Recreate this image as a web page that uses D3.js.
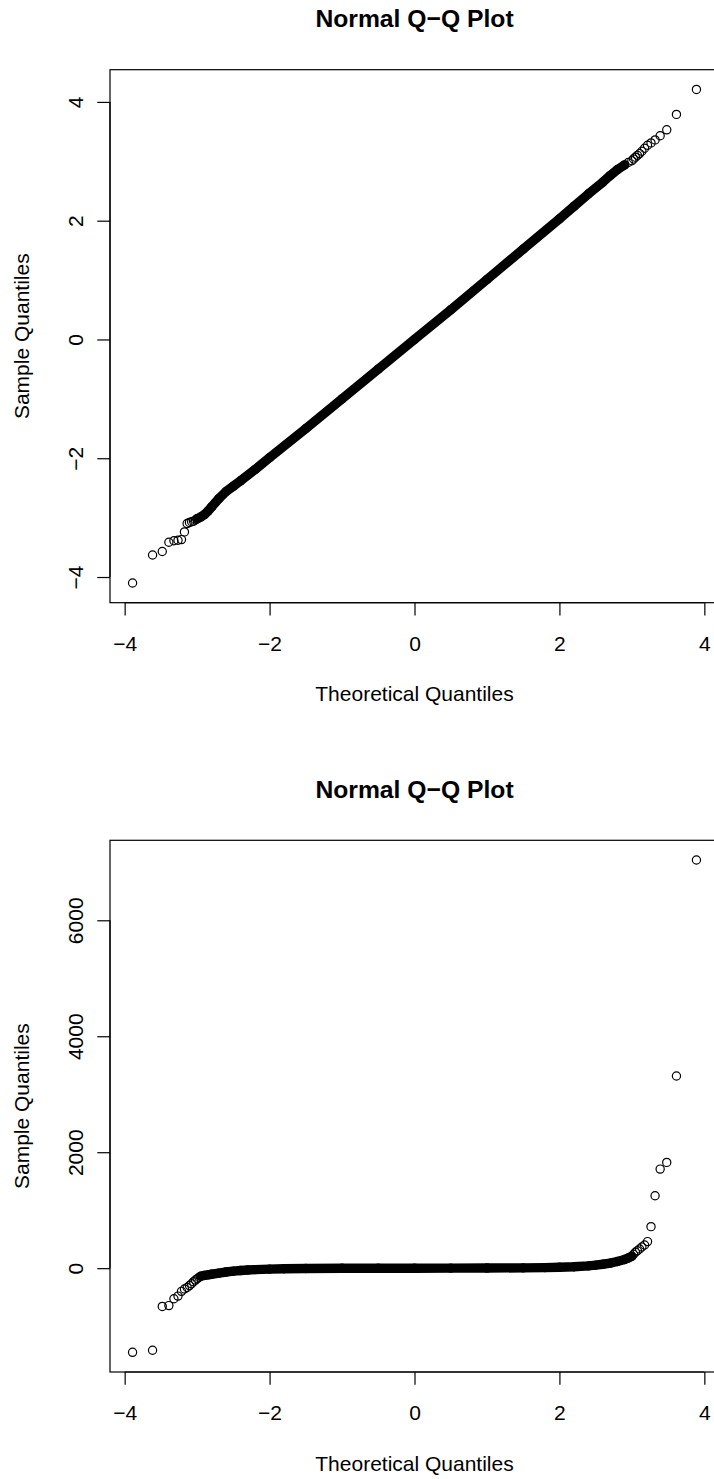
<!DOCTYPE html>
<html><head><meta charset="utf-8">
<script src="https://cdn.jsdelivr.net/npm/d3@7"></script>
<style>html,body{margin:0;padding:0;background:#fff;} svg{display:block;}</style>
</head><body>
<svg id="chart" width="714" height="1479"></svg>
<script>
// ---------- data ----------
const chartTitle = "Normal Q\u2212Q Plot";
const xAxisTitle = "Theoretical Quantiles";
const yAxisTitle = "Sample Quantiles";

const xTicks = [-4, -2, 0, 2, 4];
const xTickLabels = ["\u22124", "\u22122", "0", "2", "4"];

// top panel
const topYTicks = [-4, -2, 0, 2, 4];
const topYTickLabels = ["\u22124", "\u22122", "0", "2", "4"];
const topLowX = [-3.891, -3.615, -3.481, -3.390, -3.320, -3.264, -3.216, -3.175, -3.138, -3.106, -3.076, -3.049, -3.023];
const topLowY = [-4.10, -3.63, -3.57, -3.415, -3.39, -3.38, -3.37, -3.24, -3.10, -3.08, -3.07, -3.06, -3.04];
const topBandX = [-3.0, -2.95, -2.9, -2.85, -2.8, -2.75, -2.7, -2.6, -2.5, -2.4, -2.2, -2.0, -1.5, -1.0, -0.5, 0, 0.5, 1.0, 1.5, 2.0, 2.2, 2.4, 2.6, 2.7, 2.8, 2.9];
const topBandY = [-3.02, -2.99, -2.95, -2.89, -2.82, -2.75, -2.68, -2.56, -2.47, -2.38, -2.19, -1.99, -1.50, -1.00, -0.50, 0.00, 0.50, 1.01, 1.52, 2.03, 2.24, 2.45, 2.65, 2.76, 2.86, 2.94];
const topHighX = [2.95, 3.0, 3.023, 3.049, 3.076, 3.106, 3.138, 3.175, 3.216, 3.264, 3.320, 3.390, 3.481, 3.615, 3.891];
const topHighY = [2.98, 3.01, 3.04, 3.07, 3.10, 3.13, 3.17, 3.22, 3.27, 3.31, 3.36, 3.43, 3.53, 3.79, 4.21];

// bottom panel
const botYTicks = [0, 2000, 4000, 6000];
const botYTickLabels = ["0", "2000", "4000", "6000"];
const botLowX = [-3.891, -3.615, -3.481, -3.390, -3.320, -3.264, -3.216, -3.175, -3.138, -3.106, -3.076, -3.049, -3.023, -2.999, -2.976];
const botLowY = [-1451, -1416, -660, -645, -528, -482, -400, -360, -334, -300, -268, -232, -205, -182, -160];
const botBandX = [-2.95, -2.9, -2.85, -2.8, -2.7, -2.6, -2.5, -2.4, -2.3, -2.2, -2.0, -1.8, -1.5, -1.0, -0.5, 0, 0.5, 1.0, 1.5, 1.8, 2.0, 2.2, 2.4, 2.5, 2.6, 2.7, 2.8, 2.9, 2.95, 3.0];
const botBandY = [-140, -125, -115, -105, -85, -66, -52, -41, -32, -25, -16, -10, -6, -2, -1, 0, 1, 2, 6, 10, 16, 25, 40, 52, 68, 88, 115, 150, 175, 205];
const botHighX = [3.023, 3.049, 3.076, 3.106, 3.138, 3.175, 3.216, 3.264, 3.320, 3.390, 3.481, 3.615, 3.891];
const botHighY = [240, 275, 300, 330, 365, 400, 458, 716, 1250, 1709, 1824, 3315, 7040];

// ---------- drawing ----------
const FONT = "'Liberation Sans', Arial, Helvetica, sans-serif";
const svg = d3.select("#chart");
const R = 4.1, SW = 1.2;

function drawPanel(cfg) {
  const left = 110, right = 719;
  const allX = cfg.lowX.concat(cfg.bandX, cfg.highX);
  const allY = cfg.lowY.concat(cfg.bandY, cfg.highY);
  const [xa, xb] = d3.extent(allX), px = 0.04 * (xb - xa);
  const [ya, yb] = d3.extent(allY), py = 0.04 * (yb - ya);
  const x = d3.scaleLinear().domain([xa - px, xb + px]).range([left, right]);
  const y = d3.scaleLinear().domain([ya - py, yb + py]).range([cfg.bottom, cfg.top]);
  const g = svg.append("g");
  const cx = (left + right) / 2;

  // title
  g.append("text").attr("x", cx).attr("y", cfg.top - 42.5)
    .attr("text-anchor", "middle").attr("font-family", FONT)
    .attr("font-weight", "bold").attr("font-size", 24.7).attr("fill", "#000")
    .text(chartTitle);

  // band of overlapping points
  const line = d3.line().x((d) => x(d[0])).y((d) => y(d[1]));
  const band = cfg.bandX.map((v, i) => [v, cfg.bandY[i]]);
  g.append("path").attr("d", line(band)).attr("fill", "none")
    .attr("stroke", "#000").attr("stroke-width", 2 * R + SW)
    .attr("stroke-linecap", "round").attr("stroke-linejoin", "round");

  // points
  const pts = allX.map((v, i) => [v, allY[i]]);
  g.append("g").selectAll("circle").data(pts).join("circle")
    .attr("cx", (d) => x(d[0])).attr("cy", (d) => y(d[1])).attr("r", R)
    .attr("fill", "none").attr("stroke", "#000").attr("stroke-width", SW);

  // box
  g.append("rect").attr("x", left).attr("y", cfg.top)
    .attr("width", right - left).attr("height", cfg.bottom - cfg.top)
    .attr("fill", "none").attr("stroke", "#000").attr("stroke-width", 1.2);

  // x axis
  const xg = g.append("g").attr("transform", `translate(0,${cfg.bottom})`)
    .call(d3.axisBottom(x).tickValues(xTicks).tickSize(12.7).tickPadding(20.5)
      .tickFormat((d, i) => xTickLabels[i]));
  xg.select(".domain").remove();
  xg.attr("font-family", FONT).attr("font-size", 21);
  xg.selectAll("line").attr("stroke", "#000").attr("stroke-width", SW);
  xg.selectAll("text").attr("fill", "#000");
  xg.append("line").attr("x1", x(xTicks[0])).attr("x2", x(xTicks[xTicks.length - 1]))
    .attr("stroke", "#000").attr("stroke-width", SW);

  // y axis
  const yg = g.append("g").attr("transform", `translate(${left},0)`)
    .call(d3.axisLeft(y).tickValues(cfg.yTicks).tickSize(12.7)
      .tickFormat((d, i) => cfg.yTickLabels[i]));
  yg.select(".domain").remove();
  yg.attr("font-family", FONT).attr("font-size", 21);
  yg.selectAll("line").attr("stroke", "#000").attr("stroke-width", SW);
  yg.selectAll("text").attr("fill", "#000").attr("transform", "rotate(-90)")
    .attr("x", 0).attr("y", -26.7).attr("dy", null).attr("text-anchor", "middle");
  yg.append("line").attr("y1", y(cfg.yTicks[0])).attr("y2", y(cfg.yTicks[cfg.yTicks.length - 1]))
    .attr("stroke", "#000").attr("stroke-width", SW);

  // axis titles
  g.append("text").attr("x", cx).attr("y", cfg.bottom + 98.5)
    .attr("text-anchor", "middle").attr("font-family", FONT).attr("font-size", 21)
    .attr("fill", "#000").text(xAxisTitle);
  g.append("text").attr("transform", `translate(29,${(cfg.top + cfg.bottom) / 2}) rotate(-90)`)
    .attr("text-anchor", "middle").attr("font-family", FONT).attr("font-size", 21)
    .attr("fill", "#000").text(yAxisTitle);
}

drawPanel({ top: 69.7, bottom: 602.7, lowX: topLowX, lowY: topLowY, bandX: topBandX, bandY: topBandY,
  highX: topHighX, highY: topHighY, yTicks: topYTicks, yTickLabels: topYTickLabels });
drawPanel({ top: 840.3, bottom: 1372, lowX: botLowX, lowY: botLowY, bandX: botBandX, bandY: botBandY,
  highX: botHighX, highY: botHighY, yTicks: botYTicks, yTickLabels: botYTickLabels });
</script>
</body></html>
